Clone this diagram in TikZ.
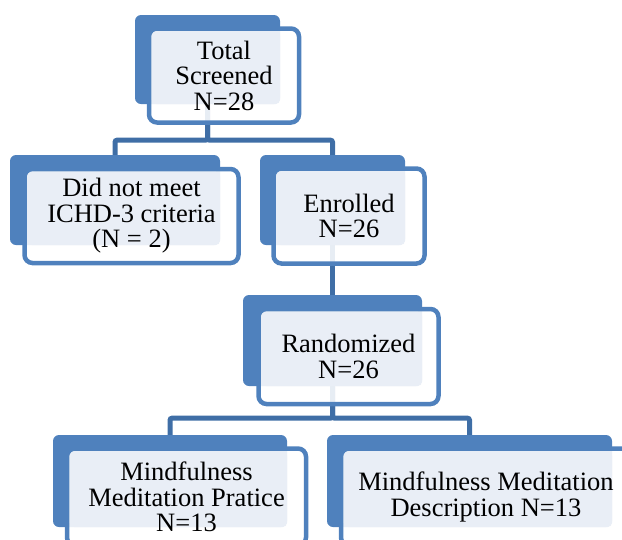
\documentclass[tikz,border=0pt]{standalone}
\usepackage{fontspec}
\setmainfont{Liberation Serif}
\usetikzlibrary{
    calc,
    backgrounds
}
\definecolor{cardblue}{HTML}{4F81BD}
\definecolor{linkblue}{HTML}{3F6EA6}
\definecolor{cardtint}{HTML}{E9EEF6}
\tikzset{
    % Solid card at the back
    back card/.style={
        rectangle,
        rounded corners=6pt,
        fill=cardblue,
        draw=none,
        inner sep=0pt
    },
    % Outlined card in front
    front card/.style={
        rectangle,
        rounded corners=8pt,
        draw=cardblue,
        line width=4.5pt,
        fill=white,
        fill opacity=0.88,
        inner sep=0pt
    },
    % Light patch behind the text
    tint card/.style={
        fill=cardtint,
        rounded corners=5pt
    },
    % Card text
    card text/.style={
        align=center,
        font=\fontsize{26.5}{25.5}\selectfont,
        text=black,
        inner sep=0pt
    },
    % Tree connectors
    tree link/.style={
        draw=linkblue,
        line width=5pt,
        rounded corners=2pt
    }
}

\begin{document}
\begin{tikzpicture}[x=1pt, y=-1pt]
        \useasboundingbox (0,0) rectangle (622,539);
        \clip (0,0) rectangle (622,539);

        % Total screened
        \node[back card, minimum width=145, minimum height=89] (total back) at (207.5, 59.5) {};
        \node[front card, minimum width=150, minimum height=94] (total frame) at ($(total back)+(16.5,16)$) {};
        \fill[tint card] ($(total frame.north west)+(5,5)$) rectangle (total back.south east);
        \node[card text] (total) at (total frame) {Total\\Screened\\N=28};

        % Did not meet criteria
        \node[back card, minimum width=210, minimum height=90] (unmet back) at (115, 200) {};
        \node[front card, minimum width=214, minimum height=94] (unmet frame) at ($(unmet back)+(16.5,16)$) {};
        \fill[tint card] ($(unmet frame.north west)+(5,5)$) rectangle (unmet back.south east);
        \node[card text] (unmet) at (unmet frame) {Did not meet\\ICHD-3 criteria\\(N = 2)};

        % Enrolled
        \node[back card, minimum width=145, minimum height=90] (enrolled back) at (332.5, 200) {};
        \node[front card, minimum width=151, minimum height=95] (enrolled frame) at ($(enrolled back)+(16.5,16)$) {};
        \fill[tint card] ($(enrolled frame.north west)+(5,5)$) rectangle (enrolled back.south east);
        \node[card text] (enrolled) at (enrolled frame) {Enrolled\\N=26};

        % Randomized
        \node[back card, minimum width=179, minimum height=91] (random back) at (332.5, 340.5) {};
        \node[front card, minimum width=180, minimum height=95] (random frame) at ($(random back)+(16,16)$) {};
        \fill[tint card] ($(random frame.north west)+(5,5)$) rectangle (random back.south east);
        \node[card text] (random) at (random frame) {Randomized\\N=26};

        % Practice arm
        \node[back card, minimum width=234, minimum height=92] (practice back) at (170, 481) {};
        \node[front card, minimum width=239, minimum height=97] (practice frame) at ($(practice back)+(16.5,16)$) {};
        \fill[tint card] ($(practice frame.north west)+(5,5)$) rectangle (practice back.south east);
        \node[card text] (practice) at (practice frame) {Mindfulness\\Meditation Pratice\\N=13};

        % Description arm
        \node[back card, minimum width=285, minimum height=92] (describe back) at (469.5, 481) {};
        \node[front card, minimum width=290, minimum height=97] (describe frame) at ($(describe back)+(16.5,16)$) {};
        \fill[tint card] ($(describe frame.north west)+(5,5)$) rectangle (describe back.south east);
        \node[card text] (describe) at (describe frame) {Mindfulness Meditation\\Description N=13};

        % Connectors behind the cards
        \begin{scope}[on background layer]
            \draw[tree link] (total back.south) -- ++(0,36) -| (unmet back.north);
            \draw[tree link] (total back.south) -- ++(0,36) -| (enrolled back.north);
            \draw[tree link] (enrolled back.south) -- (random back.north);
            \draw[tree link] (random back.south) -- ++(0,32) -| (practice back.north);
            \draw[tree link] (random back.south) -- ++(0,32) -| (describe back.north);
        \end{scope}

    \end{tikzpicture}
\end{document}
